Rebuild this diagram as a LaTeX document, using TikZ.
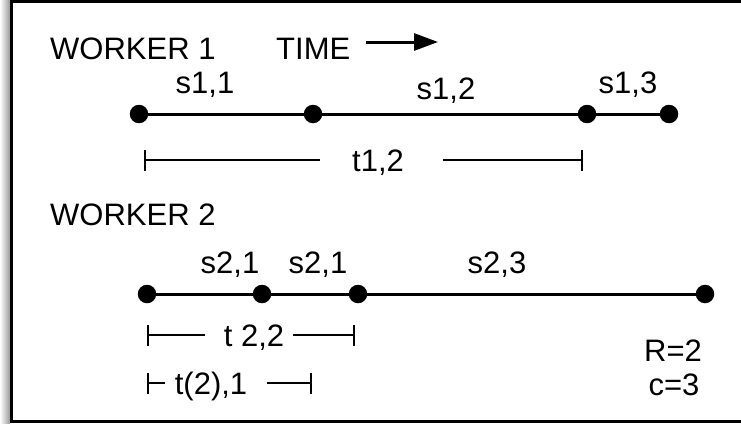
\documentclass[tikz,border=0pt]{standalone}
\usepackage{fontspec}
\setmainfont{Liberation Sans}
\usetikzlibrary{arrows.meta}
\begin{document}
\begin{tikzpicture}[x=1pt,y=-1pt,
  dot/.style={circle,fill=black,inner sep=0pt,minimum size=18.5pt},
  lbl/.style={font=\fontsize{31}{36}\selectfont,inner sep=0pt,anchor=base},
  tline/.style={line width=3pt},
  brk/.style={line width=2.3pt},
  barend/.style={{Bar[width=21pt,line width=2.3pt]}-}
]
\useasboundingbox (0,0) rectangle (741,423);
\shade[left color=white,right color=black!40] (0,0) rectangle (10,423);
\draw[line width=3pt] (11,1) rectangle (760,421);

% worker 1
\node[lbl,anchor=base west] (w1) at (50,59) {WORKER 1};
\node[lbl,anchor=base west] (time) at (276,59) {TIME};
\coordinate (ta) at (366,42);
\coordinate (tb) at (438,42);
\draw[line width=3pt,-{Triangle[length=24pt,width=17pt]}] (ta) -- (tb);

\node[dot] (a1) at (139,114) {};
\node[dot] (a2) at (313,114) {};
\node[dot] (a3) at (587,114) {};
\node[dot] (a4) at (669,114) {};
\draw[tline] (a1) -- (a2) -- (a3) -- (a4);
\node[lbl] (s11) at (205,93) {s1,1};
\node[lbl] (s12) at (446,99) {s1,2};
\node[lbl] (s13) at (628,93) {s1,3};

\node[lbl] (t12) at (378,171) {t1,2};
\coordinate (t12a) at (144,160);
\coordinate (t12b) at (320,160);
\coordinate (t12c) at (443,160);
\coordinate (t12d) at (583,160);
\draw[brk,barend] (t12a) -- (t12b);
\draw[brk,barend] (t12d) -- (t12c);

% worker 2
\node[lbl,anchor=base west] (w2) at (50,225) {WORKER 2};
\node[dot] (b1) at (147,294) {};
\node[dot] (b2) at (262,294) {};
\node[dot] (b3) at (358,294) {};
\node[dot] (b4) at (705,294) {};
\draw[tline] (b1) -- (b2) -- (b3) -- (b4);
\node[lbl] (s21) at (230,273) {s2,1};
\node[lbl] (s22) at (318,273) {s2,1};
\node[lbl] (s23) at (497,273) {s2,3};

\node[lbl] (t22) at (254,346) {t 2,2};
\coordinate (t22a) at (147,335);
\coordinate (t22b) at (205,335);
\coordinate (t22c) at (293,335);
\coordinate (t22d) at (355,335);
\draw[brk,barend] (t22a) -- (t22b);
\draw[brk,barend] (t22d) -- (t22c);

\node[lbl] (t21) at (211,394) {t(2),1};
\coordinate (t21a) at (147,383);
\coordinate (t21b) at (165,383);
\coordinate (t21c) at (267,383);
\coordinate (t21d) at (312,383);
\draw[brk,barend] (t21a) -- (t21b);
\draw[brk,barend] (t21d) -- (t21c);

\node[lbl] (R) at (673,361) {R=2};
\node[lbl] (c) at (674,395) {c=3};
\end{tikzpicture}
\end{document}
